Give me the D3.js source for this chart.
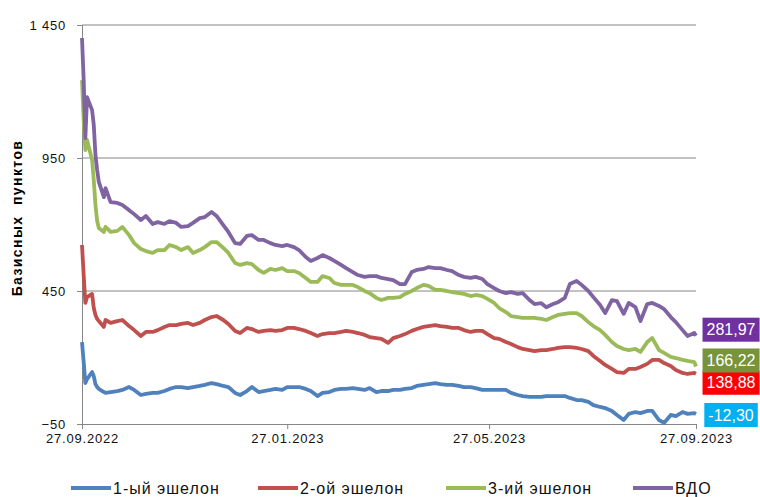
<!DOCTYPE html>
<html>
<head>
<meta charset="utf-8">
<script src="https://cdn.jsdelivr.net/npm/d3@7"></script>
<style>
  body { margin: 0; background: #fff; }
  text { font-family: 'Liberation Sans', Arial, sans-serif; }
</style>
</head>
<body>
<div id="chart"></div>
<script>
// dates of observations
const dates = [
  '27.09.2022', '28.09.2022', '29.09.2022', '30.09.2022', '03.10.2022', '04.10.2022', '05.10.2022', '06.10.2022', '07.10.2022', '10.10.2022', '11.10.2022',
  '14.10.2022', '18.10.2022', '21.10.2022', '25.10.2022', '28.10.2022', '01.11.2022', '04.11.2022', '08.11.2022', '11.11.2022', '15.11.2022',
  '18.11.2022', '22.11.2022', '25.11.2022', '29.11.2022', '02.12.2022', '06.12.2022', '09.12.2022', '13.12.2022', '16.12.2022', '20.12.2022',
  '23.12.2022', '27.12.2022', '30.12.2022', '03.01.2023', '06.01.2023', '10.01.2023', '13.01.2023', '17.01.2023', '20.01.2023', '24.01.2023',
  '27.01.2023', '31.01.2023', '03.02.2023', '07.02.2023', '10.02.2023', '14.02.2023', '17.02.2023', '21.02.2023', '24.02.2023', '28.02.2023',
  '03.03.2023', '07.03.2023', '10.03.2023', '14.03.2023', '17.03.2023', '21.03.2023', '24.03.2023', '28.03.2023', '31.03.2023', '04.04.2023',
  '07.04.2023', '11.04.2023', '14.04.2023', '18.04.2023', '21.04.2023', '25.04.2023', '28.04.2023', '02.05.2023', '05.05.2023', '09.05.2023',
  '12.05.2023', '16.05.2023', '19.05.2023', '23.05.2023', '26.05.2023', '30.05.2023', '02.06.2023', '06.06.2023', '09.06.2023', '13.06.2023',
  '16.06.2023', '20.06.2023', '23.06.2023', '27.06.2023', '30.06.2023', '04.07.2023', '07.07.2023', '11.07.2023', '14.07.2023', '18.07.2023',
  '21.07.2023', '25.07.2023', '28.07.2023', '01.08.2023', '04.08.2023', '08.08.2023', '11.08.2023', '15.08.2023', '18.08.2023', '22.08.2023',
  '25.08.2023', '29.08.2023', '01.09.2023', '05.09.2023', '08.09.2023', '12.09.2023', '15.09.2023', '19.09.2023', '22.09.2023', '26.09.2023',
  '27.09.2023'
]

// spreads, basis points
const echelon1 = [
  258, 183, 104, 119, 145, 130, 100, 89, 82, 70, 67,
  70, 74, 78, 89, 78, 59, 63, 67, 67, 74,
  82, 89, 89, 85, 89, 93, 97, 104, 100, 93,
  89, 67, 59, 74, 89, 70, 74, 78, 82, 78,
  89, 89, 89, 82, 74, 55, 67, 70, 78, 82,
  82, 85, 82, 78, 85, 70, 74, 74, 78, 78,
  82, 85, 93, 97, 100, 104, 100, 97, 97, 93,
  89, 89, 85, 78, 78, 78, 78, 78, 67, 59,
  55, 52, 52, 52, 55, 55, 55, 55, 48, 40,
  40, 33, 21, 14, 10, -1, -16, -35, -12, -5,
  -9, -1, -1, -35, -46, -16, -20, -5, -12, -9,
  -12.30
]

const echelon2 = [
  623, 510, 405, 427, 439, 386, 360, 345, 337, 315, 341,
  330, 337, 341, 318, 303, 281, 296, 296, 303, 315,
  322, 322, 326, 330, 322, 330, 341, 352, 356, 341,
  326, 300, 292, 311, 307, 296, 300, 303, 300, 303,
  311, 311, 307, 300, 292, 281, 288, 292, 292, 296,
  300, 296, 292, 285, 277, 273, 270, 255, 273, 281,
  288, 300, 307, 315, 318, 322, 318, 315, 311, 311,
  303, 296, 300, 300, 288, 273, 270, 258, 251, 239,
  232, 228, 224, 228, 228, 232, 236, 239, 239, 236,
  232, 224, 206, 187, 172, 157, 145, 142, 157, 157,
  164, 176, 191, 191, 179, 168, 153, 142, 138, 142,
  138.88
]

const echelon3 = [
  1243, 1093, 980, 1018, 942, 867, 773, 713, 687, 672, 691,
  672, 676, 691, 660, 630, 608, 600, 593, 604, 604,
  623, 615, 604, 615, 593, 604, 615, 634, 634, 612,
  593, 555, 548, 555, 551, 529, 518, 533, 529, 536,
  525, 525, 518, 499, 484, 484, 506, 499, 480, 473,
  473, 473, 465, 450, 442, 424, 416, 424, 424, 427,
  439, 450, 461, 473, 469, 454, 454, 450, 446, 442,
  439, 431, 435, 431, 420, 405, 386, 371, 356, 352,
  349, 349, 349, 345, 341, 352, 360, 364, 367, 367,
  356, 333, 318, 303, 285, 258, 243, 232, 228, 232,
  221, 258, 273, 228, 217, 202, 198, 191, 187, 183,
  166.22
]

const vdo = [
  1401, 1243, 1025, 1179, 1130, 1074, 961, 905, 860, 803, 837,
  784, 781, 773, 754, 739, 717, 732, 702, 709, 702,
  713, 706, 691, 694, 706, 724, 728, 747, 732, 698,
  672, 630, 627, 657, 660, 642, 642, 630, 623, 619,
  623, 615, 604, 578, 563, 574, 585, 574, 563, 548,
  536, 521, 510, 503, 506, 506, 499, 495, 491, 476,
  476, 521, 529, 533, 540, 536, 536, 529, 525, 510,
  503, 499, 503, 495, 476, 461, 450, 442, 446, 439,
  442, 416, 401, 404, 389, 401, 408, 424, 476, 488,
  473, 450, 427, 397, 367, 416, 412, 364, 405, 389,
  337, 401, 405, 394, 382, 352, 333, 303, 281, 292,
  281.97
]

const seriesNames = ['1-ый эшелон', '2-ой эшелон', '3-ий эшелон', 'ВДО']
const seriesValues = [echelon1, echelon2, echelon3, vdo]
const lineColors = ['#4f81bd', '#c0504d', '#9bbb59', '#8064a2']
const boxColors = ['#00b0f0', '#ff0000', '#77933c', '#7030a0']

const yTicks = [-50, 450, 950, 1450]
const xTicks = ['27.09.2022', '27.01.2023', '27.05.2023', '27.09.2023']

const margin = {
  top: 25,
  right: 64,
  bottom: 73,
  left: 82
}

const width = 760 - margin.left - margin.right
const height = 497 - margin.top - margin.bottom

const parseDate = d3.timeParse('%d.%m.%Y')
const fmtDate = d3.timeFormat('%d.%m.%Y')
const fmtNum = v => d3.format(',')(v).replace(/,/g, ' ')
const fmtLabel = v => v.toFixed(2).replace('.', ',')

const svg = d3
  .select('#chart')
  .append('svg')
  .attr('width', width + margin.left + margin.right)
  .attr('height', height + margin.top + margin.bottom)

const g = svg.append('g')
  .attr('transform', 'translate(' + margin.left + ',' + margin.top + ')')

const x = d3.scaleTime()
  .domain([parseDate(dates[0]), parseDate(dates[dates.length - 1])])
  .range([0, width])

const y = d3.scaleLinear()
  .domain([-50, 1450])
  .range([height, 0])

// horizontal grid
g.selectAll('.grid')
  .data(yTicks.slice(1))
  .enter()
  .append('line')
  .attr('x1', 0)
  .attr('x2', width)
  .attr('y1', d => y(d))
  .attr('y2', d => y(d))
  .attr('stroke', '#868686')
  .attr('stroke-width', 1)

// y axis
const yAxis = g.append('g')
  .call(d3.axisLeft(y).tickValues(yTicks).tickSize(5).tickPadding(11).tickFormat(fmtNum))
yAxis.select('.domain').attr('stroke', '#868686')
yAxis.selectAll('.tick line').attr('stroke', '#868686')
yAxis.selectAll('text').attr('font-size', 13).attr('fill', '#111')
  .style('font-family', "'Liberation Sans', Arial, sans-serif")
  .style('letter-spacing', '0.8px')

// x axis
const xAxis = g.append('g')
  .attr('transform', 'translate(0,' + height + ')')
  .call(d3.axisBottom(x).tickValues(xTicks.map(parseDate)).tickSize(5).tickPadding(5).tickFormat(fmtDate))
xAxis.select('.domain').attr('stroke', '#868686')
xAxis.selectAll('.tick line').attr('stroke', '#868686')
xAxis.selectAll('text').attr('font-size', 13).attr('fill', '#111')
  .style('font-family', "'Liberation Sans', Arial, sans-serif")
  .style('letter-spacing', '0.8px')

// axis title
svg.append('text')
  .attr('transform', 'translate(22,218) rotate(-90)')
  .attr('text-anchor', 'middle')
  .attr('font-size', 14)
  .attr('font-weight', 'bold')
  .style('white-space', 'pre')
  .style('letter-spacing', '1.4px')
  .text('Базисных  пунктов')

// lines
const line = d3.line()
  .x((d, i) => x(parseDate(dates[i])))
  .y(d => y(d))

g.selectAll('.series')
  .data(seriesValues)
  .enter()
  .append('path')
  .attr('fill', 'none')
  .attr('stroke', (d, i) => lineColors[i])
  .attr('stroke-width', 3.8)
  .attr('stroke-linejoin', 'round')
  .attr('d', line)

// last value labels
const nudge = [1, 9, -6, -6]
seriesValues.forEach((vals, i) => {
  const last = vals[vals.length - 1]
  const cy = y(last) + nudge[i]
  const lab = g.append('g')
  const t = lab.append('text')
    .attr('x', width + 35)
    .attr('y', cy)
    .attr('dy', '0.35em')
    .attr('text-anchor', 'middle')
    .attr('font-size', 16)
    .attr('fill', '#fff')
    .text(fmtLabel(last))
  const bb = t.node().getBBox()
  lab.insert('rect', 'text')
    .attr('x', bb.x - 4)
    .attr('y', cy - 12)
    .attr('width', bb.width + 8)
    .attr('height', 24)
    .attr('fill', boxColors[i])
})

// legend
const legendX = [71, 258, 446, 633]
const legend = svg.append('g').attr('transform', 'translate(0,488)')
seriesNames.forEach((name, i) => {
  legend.append('line')
    .attr('x1', legendX[i])
    .attr('x2', legendX[i] + 40)
    .attr('stroke', lineColors[i])
    .attr('stroke-width', 4)
  legend.append('text')
    .attr('x', legendX[i] + 42)
    .attr('dy', '0.35em')
    .attr('font-size', 16)
    .attr('fill', '#111')
    .style('letter-spacing', '1px')
    .text(name)
})
</script>
</body>
</html>
